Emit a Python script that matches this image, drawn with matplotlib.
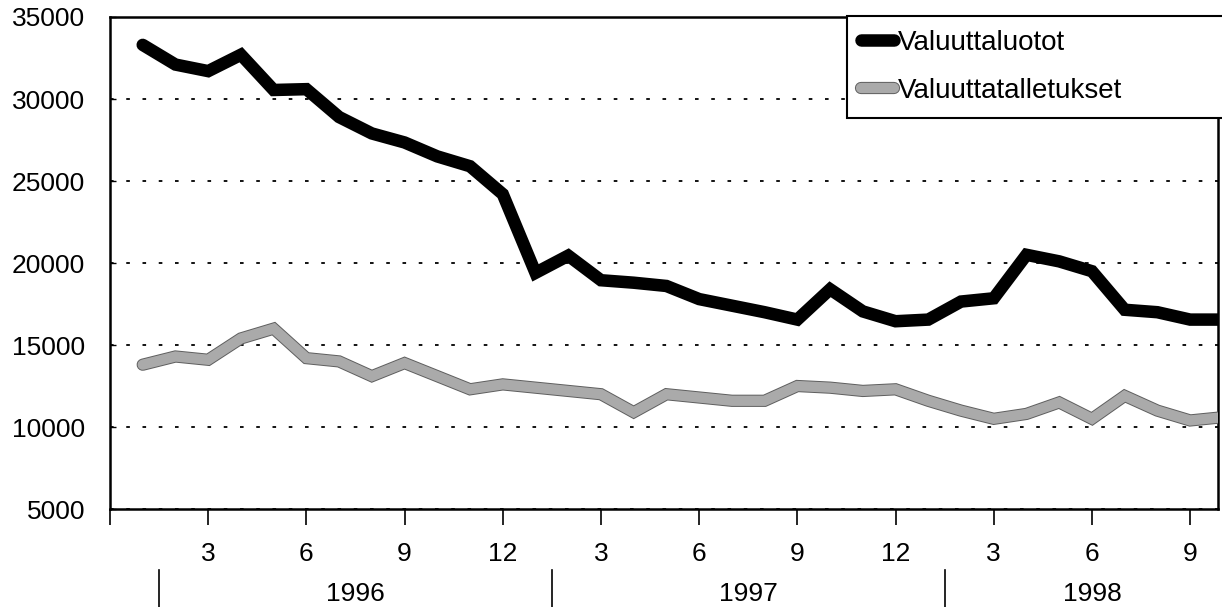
import matplotlib
matplotlib.use("Agg")
import matplotlib.pyplot as plt
import matplotlib.patheffects as pe
from matplotlib.lines import Line2D
import matplotlib.transforms as mtransforms

plt.rcParams['font.family'] = ['Liberation Sans Narrow', 'Liberation Sans', 'DejaVu Sans']

# monthly data, 1/1996 - 10/1998
months = list(range(1, 35))
valuuttaluotot = [33300, 32100, 31700, 32700, 30550, 30600, 28900, 27900, 27350, 26500,
                  25900, 24200, 19400, 20450, 18950, 18800, 18600, 17800, 17400, 17000,
                  16550, 18400, 17050, 16450, 16550, 17650, 17850, 20500, 20100, 19500,
                  17150, 17000, 16550, 16550]
valuuttatalletukset = [13800, 14300, 14100, 15400, 16000, 14200, 14000, 13100, 13900, 13100,
                       12300, 12600, 12400, 12200, 12000, 10900, 12000, 11800, 11600, 11600,
                       12500, 12400, 12200, 12300, 11600, 11000, 10500, 10800, 11500, 10500,
                       11900, 11000, 10400, 10600]
month_ticks = list(range(0, 34, 3))
month_labels = [''] + ['3', '6', '9', '12'] * 2 + ['3', '6', '9']
years = ['1996', '1997', '1998']
year_label_x = [7.5, 19.5, 30.0]

fig = plt.figure(figsize=(12.22, 6.07), dpi=100)
ax = fig.add_axes([0.09, 0.1614, 0.9067, 0.8106])

ax.plot(months, valuuttaluotot, color='black', linewidth=9,
        solid_capstyle='round', solid_joinstyle='miter', label='Valuuttaluotot', zorder=3)
gray_fx = [pe.Stroke(linewidth=8.8, foreground='#5e5e5e'), pe.Normal()]
ax.plot(months, valuuttatalletukset, color='#aaaaaa', linewidth=7.4,
        solid_capstyle='round', solid_joinstyle='miter', path_effects=gray_fx,
        label='Valuuttatalletukset', zorder=3)

ax.set_xlim(0, 33.85)
ax.set_ylim(5000, 35000)
ax.set_yticks(range(5000, 35001, 5000))
ax.set_xticks(month_ticks)
ax.set_xticklabels(month_labels)

ax.yaxis.grid(True, color='black', linestyle=(0, (2, 7)), linewidth=1.3)
ax.set_axisbelow(True)
for s in ax.spines.values():
    s.set_linewidth(1.8)
ax.tick_params(axis='x', direction='out', length=11.5, width=1.2, pad=12, labelsize=19)
ax.tick_params(axis='y', direction='in', length=4, width=1.0, pad=18, labelsize=19)

# year separators and year labels below the month ticks
trans = mtransforms.blended_transform_factory(ax.transData, ax.transAxes)
for k in range(len(years)):
    x0 = 12 * k + 1.5
    ax.plot([x0, x0], [-0.124, -0.2], color='black', linewidth=1.2,
            transform=trans, clip_on=False)
    ax.text(year_label_x[k], -0.173, years[k], transform=trans,
            ha='center', va='center', fontsize=19)

handles = [Line2D([0], [0], color='black', linewidth=9, solid_capstyle='round'),
           Line2D([0], [0], color='#aaaaaa', linewidth=7.4, solid_capstyle='round',
                  path_effects=gray_fx)]
leg = ax.legend(handles, ['Valuuttaluotot', 'Valuuttatalletukset'],
                loc='upper left', bbox_to_anchor=(0.693, 0.814, 0.35, 0.16),
                bbox_transform=fig.transFigure, mode='expand', fontsize=20,
                frameon=True, fancybox=False, edgecolor='black', framealpha=1,
                handlelength=1.2, handletextpad=0.15, borderpad=0.5,
                labelspacing=0.8, borderaxespad=0)
leg.get_frame().set_linewidth(1.5)

fig.savefig('out.png', dpi=100)
